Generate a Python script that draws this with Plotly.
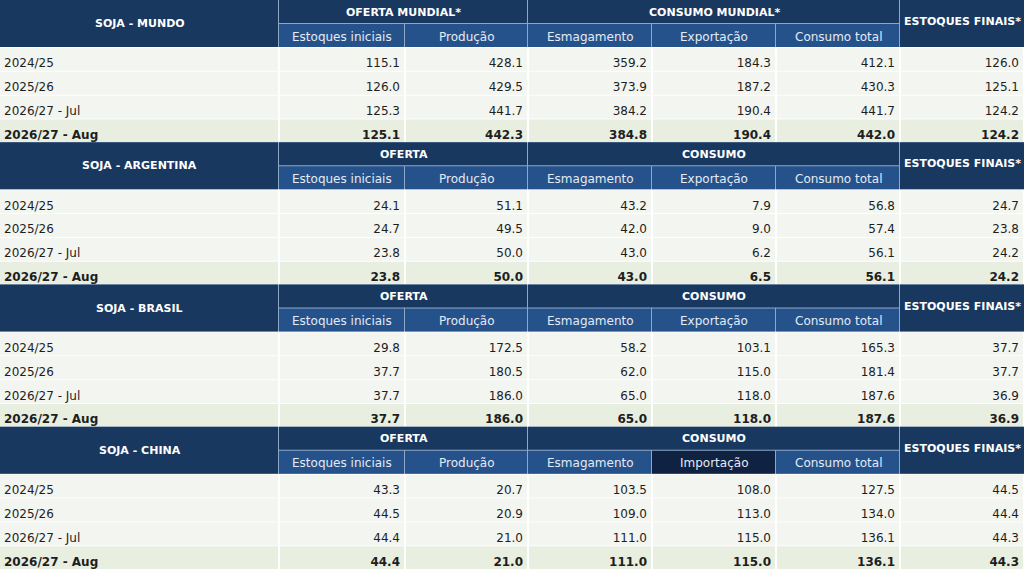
import plotly.graph_objects as go

# quadro de oferta e demanda de soja (milhões de t)
blocos = ["SOJA - MUNDO", "SOJA - ARGENTINA", "SOJA - BRASIL", "SOJA - CHINA"]
titulos_oferta = ["OFERTA MUNDIAL*", "OFERTA", "OFERTA", "OFERTA"]
titulos_consumo = ["CONSUMO MUNDIAL*", "CONSUMO", "CONSUMO", "CONSUMO"]
titulo_final = "ESTOQUES FINAIS*"
rotulos_comercio = ["Exportação", "Exportação", "Exportação", "Importação"]
safras = ["2024/25", "2025/26", "2026/27 - Jul", "2026/27 - Aug"]

mundo_ini = [115.1, 126.0, 125.3, 125.1]
mundo_prod = [428.1, 429.5, 441.7, 442.3]
mundo_esm = [359.2, 373.9, 384.2, 384.8]
mundo_exp = [184.3, 187.2, 190.4, 190.4]
mundo_cons = [412.1, 430.3, 441.7, 442.0]
mundo_fin = [126.0, 125.1, 124.2, 124.2]

argentina_ini = [24.1, 24.7, 23.8, 23.8]
argentina_prod = [51.1, 49.5, 50.0, 50.0]
argentina_esm = [43.2, 42.0, 43.0, 43.0]
argentina_exp = [7.9, 9.0, 6.2, 6.5]
argentina_cons = [56.8, 57.4, 56.1, 56.1]
argentina_fin = [24.7, 23.8, 24.2, 24.2]

brasil_ini = [29.8, 37.7, 37.7, 37.7]
brasil_prod = [172.5, 180.5, 186.0, 186.0]
brasil_esm = [58.2, 62.0, 65.0, 65.0]
brasil_exp = [103.1, 115.0, 118.0, 118.0]
brasil_cons = [165.3, 181.4, 187.6, 187.6]
brasil_fin = [37.7, 37.7, 36.9, 36.9]

china_ini = [43.3, 44.5, 44.4, 44.4]
china_prod = [20.7, 20.9, 21.0, 21.0]
china_esm = [103.5, 109.0, 111.0, 111.0]
china_imp = [108.0, 113.0, 115.0, 115.0]
china_cons = [127.5, 134.0, 136.1, 136.1]
china_fin = [44.5, 44.4, 44.3, 44.3]

dados = [
    [mundo_ini, mundo_prod, mundo_esm, mundo_exp, mundo_cons, mundo_fin],
    [argentina_ini, argentina_prod, argentina_esm, argentina_exp, argentina_cons, argentina_fin],
    [brasil_ini, brasil_prod, brasil_esm, brasil_exp, brasil_cons, brasil_fin],
    [china_ini, china_prod, china_esm, china_imp, china_cons, china_fin],
]

# layout da grade (px)
W, H = 1024, 569
bordas = [0, 279, 405, 528, 652, 776, 900, 1024]
alt_bloco = H / 4
alt_cab1 = 24
alt_cab2 = 23
alt_linha = (alt_bloco - alt_cab1 - alt_cab2) / 4

AZUL = "#183860"
AZUL_SUB = "#26528b"
AZUL_ESCURO = "#0f2242"
LINHA_CAB = "#8fa7c6"
FUNDO = "#f3f5f0"
FUNDO_ULT = "#e8eee0"
FONTE = "DejaVu Sans"

fig = go.Figure()
shapes = []
anots = []


def ret(x0, x1, y0, y1, cor):
    shapes.append(dict(type="rect", xref="x", yref="y", x0=x0, x1=x1, y0=y0, y1=y1,
                       fillcolor=cor, line=dict(width=0), layer="below"))


def texto(x, y, t, cor, tam, bold=False, anchor="center"):
    anots.append(dict(x=x, y=y, xref="x", yref="y", text=f"<b>{t}</b>" if bold else t,
                      showarrow=False, xanchor=anchor, yanchor="middle",
                      font=dict(family=FONTE, size=tam, color=cor)))


for b, nome in enumerate(blocos):
    top = b * alt_bloco
    sub_top = top + alt_cab1
    cab_fim = top + alt_cab1 + alt_cab2

    # cabeçalho
    ret(0, W, top, cab_fim, LINHA_CAB)
    ret(0, bordas[1] - 1, top, cab_fim, AZUL)
    ret(bordas[1], bordas[3] - 1, top, sub_top - 1, AZUL)
    ret(bordas[3], bordas[6] - 1, top, sub_top - 1, AZUL)
    ret(bordas[6], W, top, cab_fim, AZUL)
    texto(bordas[1] / 2, top + (alt_cab1 + alt_cab2) / 2, nome, "white", 11, True)
    texto((bordas[1] + bordas[3]) / 2, top + alt_cab1 / 2, titulos_oferta[b], "white", 11, True)
    texto((bordas[3] + bordas[6]) / 2, top + alt_cab1 / 2, titulos_consumo[b], "white", 11, True)
    texto((bordas[6] + W) / 2, top + (alt_cab1 + alt_cab2) / 2 - 2, titulo_final, "white", 11, True)

    subs = ["Estoques iniciais", "Produção", "Esmagamento", rotulos_comercio[b], "Consumo total"]
    for i, s in enumerate(subs):
        c = i + 1
        cor = AZUL_ESCURO if s == "Importação" else AZUL_SUB
        ret(bordas[c], bordas[c + 1] - 1, sub_top, cab_fim, cor)
        texto((bordas[c] + bordas[c + 1]) / 2, (sub_top + cab_fim) / 2 + 1, s, "#e4ebf4", 12)

    # linhas de dados
    for r, safra in enumerate(safras):
        y0 = cab_fim + 1 + r * alt_linha
        y1 = y0 + alt_linha - 1
        ult = r == len(safras) - 1
        fundo = FUNDO_ULT if ult else FUNDO
        for c in range(7):
            ret(bordas[c] + (1 if c else 0), bordas[c + 1] - 1, y0, y1, fundo)

    ys = [cab_fim + 1 + (r + 0.5) * alt_linha + 4.5 for r in range(len(safras))]
    rot = [f"<b>{s}</b>" if i == len(safras) - 1 else s for i, s in enumerate(safras)]
    fig.add_trace(go.Scatter(x=[4] * len(safras), y=ys, text=rot, mode="text",
                             textposition="middle right", hoverinfo="skip",
                             textfont=dict(family=FONTE, size=12, color="#1e1e1e")))
    for k, serie in enumerate(dados[b]):
        txt = [f"<b>{v:.1f}</b>" if i == len(serie) - 1 else f"{v:.1f}" for i, v in enumerate(serie)]
        fig.add_trace(go.Scatter(x=[bordas[k + 2] - 5] * len(serie), y=ys, text=txt, mode="text",
                                 textposition="middle left", hoverinfo="skip",
                                 textfont=dict(family=FONTE, size=12, color="#1e1e1e")))

fig.update_layout(
    width=W, height=H,
    margin=dict(l=0, r=0, t=0, b=0),
    paper_bgcolor="white", plot_bgcolor="white",
    showlegend=False,
    shapes=shapes, annotations=anots,
    xaxis=dict(range=[0, W], visible=False, fixedrange=True),
    yaxis=dict(range=[H, 0], visible=False, fixedrange=True),
)

fig.write_html("out.html", config={"displayModeBar": False},
               post_script="document.body.style.margin='0';document.body.style.overflow='hidden';")
